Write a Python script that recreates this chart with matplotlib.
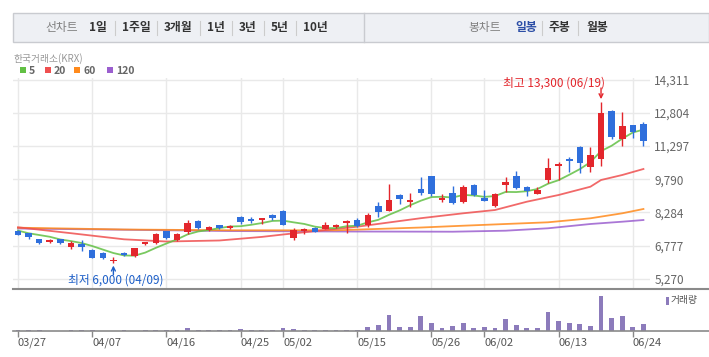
import numpy as np
import matplotlib
matplotlib.use('Agg')
import matplotlib.pyplot as plt
from matplotlib.patches import Rectangle
from matplotlib.lines import Line2D

plt.rcParams['font.family'] = ['Noto Sans CJK KR', 'DejaVu Sans']

# daily candles, 2025-03-27 .. 2025-06-25
dates = ['03/27', '03/28', '03/31', '04/01', '04/02', '04/03', '04/04', '04/07', '04/08', '04/09',
         '04/10', '04/11', '04/14', '04/15', '04/16', '04/17', '04/18', '04/21', '04/22', '04/23',
         '04/24', '04/25', '04/28', '04/29', '04/30', '05/02', '05/07', '05/08', '05/09', '05/12',
         '05/13', '05/14', '05/15', '05/16', '05/19', '05/20', '05/21', '05/22', '05/23', '05/26',
         '05/27', '05/28', '05/29', '05/30', '06/02', '06/04', '06/05', '06/09', '06/10', '06/11',
         '06/12', '06/13', '06/16', '06/17', '06/18', '06/19', '06/20', '06/23', '06/24', '06/25']
opens = [7440, 7340, 7080, 6960, 7070, 6730, 6840, 6580, 6460, 6080,
         6440, 6320, 6840, 6910, 7430, 7030, 7410, 7900, 7490, 7700,
         7590, 8080, 7970, 7930, 8160, 8360, 7140, 7460, 7570, 7550,
         7640, 7820, 7940, 7700, 8580, 8360, 9060, 8770, 9350, 9940,
         8850, 9180, 8760, 9530, 8950, 8590, 9540, 9940, 9430, 9140,
         9760, 10410, 10710, 11240, 10360, 10720, 12900, 11610, 12250, 12310]
highs = [7490, 7350, 7080, 7090, 7090, 6970, 7030, 6630, 6500, 6280,
         6500, 6670, 6960, 7340, 7440, 7340, 7940, 7960, 7660, 7700,
         7710, 8140, 8060, 8030, 8210, 8410, 7590, 7590, 7610, 7850,
         7770, 7960, 8020, 8260, 8760, 9580, 9120, 9170, 9880, 9960,
         9110, 9490, 9530, 9590, 9300, 9180, 9890, 10170, 9490, 9430,
         10760, 10560, 10790, 11300, 11270, 13300, 12940, 12850, 12250, 12400]
lows = [7250, 7090, 6870, 6880, 6870, 6630, 6530, 6200, 6160, 6000,
        6320, 6280, 6790, 6870, 7070, 7000, 7320, 7550, 7460, 7520,
        7550, 7750, 7820, 7770, 7960, 7700, 7030, 7320, 7380, 7530,
        7570, 7370, 7610, 7640, 8090, 8340, 8680, 8520, 9090, 9030,
        8770, 8680, 8730, 9030, 8800, 8550, 9210, 9340, 9030, 9140,
        9610, 9740, 10120, 10060, 10130, 10390, 11620, 11300, 11650, 11320]
closes = [7270, 7160, 6910, 7030, 6910, 6910, 6720, 6230, 6230, 6130,
          6370, 6660, 6930, 7310, 7110, 7310, 7790, 7590, 7620, 7570,
          7660, 7860, 7910, 8020, 8050, 7730, 7470, 7550, 7410, 7710,
          7710, 7910, 7670, 8160, 8310, 8850, 8910, 8850, 9180, 9120,
          8930, 8730, 9440, 9060, 8800, 9110, 9670, 9410, 9260, 9300,
          10300, 10480, 10620, 10540, 10890, 12810, 11700, 12220, 11950, 11540]
volumes = [4, 4, 4, 0.5, 0.5, 4, 4, 4, 0.5, 0.5,
           4, 0.5, 4, 4, 4, 4, 9, 4, 4, 4,
           4, 6, 4, 4, 4, 9, 6, 4, 4, 4,
           4, 4, 4, 12, 19, 48, 12, 12, 45, 24,
           9, 15, 24, 9, 12, 9, 36, 18, 9, 9,
           60, 30, 24, 21, 15, 108, 39, 45, 12, 21]  # thousand shares

ma5 = [7460, 7340, 7260, 7180, 7057, 6984, 6896, 6760, 6600, 6442,
       6333, 6322, 6461, 6677, 6874, 7062, 7289, 7421, 7485, 7576,
       7646, 7660, 7724, 7803, 7899, 7913, 7835, 7763, 7641, 7574,
       7572, 7659, 7683, 7832, 7951, 8178, 8377, 8613, 8818, 8982,
       8997, 8961, 9079, 9056, 8992, 9028, 9216, 9210, 9249, 9349,
       9588, 9751, 9994, 10251, 10568, 11070, 11313, 11633, 11915, 12045]
ma20_at = [0, 5, 10, 14, 19, 23, 25, 32, 38, 42, 45, 48, 51, 54, 55, 57, 59]
ma20 = [7610, 7342, 7065, 6965, 7011, 7174, 7283, 7637, 8023, 8246, 8395, 8772, 9077, 9453, 9757, 9984, 10257]
ma60_at = [0, 10, 20, 30, 38, 42, 46, 50, 54, 57, 59]
ma60 = [7592, 7510, 7474, 7474, 7600, 7682, 7760, 7837, 8019, 8246, 8441]
ma120_at = [0, 10, 20, 30, 41, 46, 50, 54, 57, 59]
ma120 = [7555, 7500, 7440, 7420, 7410, 7456, 7565, 7760, 7864, 7941]

price_ticks = [5270, 6777, 8284, 9790, 11297, 12804, 14311]
date_ticks = ['03/27', '04/07', '04/16', '04/25', '05/02', '05/15', '05/26', '06/02', '06/13', '06/24']

period_tabs = ['1일', '1주일', '3개월', '1년', '3년', '5년', '10년']
candle_tabs = ['일봉', '주봉', '월봉']
ma_names = ['5', '20', '60', '120']

RED = '#e3262c'
BLUE = '#2f6fdc'
MA_COLORS = ['#62c044', '#ef4f4f', '#ff8a1c', '#9b5fcf']
VOL_COLOR = '#8c7bbb'
GRID = '#e9e9e9'

W, H = 709, 357


def fx(x):
    return x / W


def fy(y):
    return 1 - y / H


fig = plt.figure(figsize=(W / 100, H / 100), dpi=100)

# top tab bar
fig.add_artist(Rectangle((fx(13), fy(42)), fx(709) - fx(13), fy(13) - fy(42),
                         transform=fig.transFigure, facecolor='#eef0f4', edgecolor='#c9cbd0', lw=1))
fig.add_artist(Line2D([fx(364), fx(364)], [fy(13), fy(42)], transform=fig.transFigure, color='#c9cbd0', lw=1))

fig.text(fx(45), fy(28), '선차트', color='#808080', fontsize=8.5, va='center', ha='left')
tab_x = [89, 122, 164, 207, 239, 271, 303]
sep_x = [115, 157, 200, 232, 264, 296]
for name, x in zip(period_tabs, tab_x):
    fig.text(fx(x), fy(28), name, color='#333333', fontsize=8.5, fontweight='bold', va='center', ha='left')
for x in sep_x:
    fig.add_artist(Line2D([fx(x), fx(x)], [fy(21), fy(35)], transform=fig.transFigure, color='#cccccc', lw=0.8))

fig.text(fx(468), fy(28), '봉차트', color='#808080', fontsize=8.5, va='center', ha='left')
for name, x, c in zip(candle_tabs, [515, 549, 586], ['#2c4ea6', '#333333', '#333333']):
    fig.text(fx(x), fy(28), name, color=c, fontsize=8.5, fontweight='bold', va='center', ha='left')
for x in [542, 578]:
    fig.add_artist(Line2D([fx(x), fx(x)], [fy(21), fy(35)], transform=fig.transFigure, color='#cccccc', lw=0.8))

# legend
fig.text(fx(13), fy(58.5), '한국거래소(KRX)', color='#999999', fontsize=7, va='center', ha='left')
for name, c, x in zip(ma_names, MA_COLORS, [20, 45, 74, 107]):
    fig.add_artist(Rectangle((fx(x), fy(73)), fx(6), fy(67) - fy(73),
                             transform=fig.transFigure, facecolor=c, edgecolor='none'))
    fig.text(fx(x + 9), fy(70.5), name, color='#666666', fontsize=7.5, fontweight='bold', va='center', ha='left')

# price panel
ax = fig.add_axes([fx(13), fy(289), fx(650) - fx(13), fy(78) - fy(289)])
x = np.arange(len(dates))
tick_idx = [dates.index(d) for d in date_ticks]

ax.plot(ma120_at, ma120, color=MA_COLORS[3], lw=1.3, alpha=0.85, zorder=2)
ax.plot(ma60_at, ma60, color=MA_COLORS[2], lw=1.3, alpha=0.85, zorder=2)
ax.plot(ma20_at, ma20, color=MA_COLORS[1], lw=1.3, alpha=0.85, zorder=2)
ax.plot(x, ma5, color=MA_COLORS[0], lw=1.3, alpha=0.85, zorder=2)

o = np.array(opens)
c = np.array(closes)
colors = [RED if cl >= op else BLUE for op, cl in zip(o, c)]
ax.vlines(x, lows, highs, colors=colors, lw=1, zorder=3)
body_h = np.maximum(np.abs(c - o), 40)
ax.bar(x, body_h, bottom=np.minimum(o, c), width=0.62, color=colors, zorder=4)

hi = int(np.argmax(highs))
lo = int(np.argmin(lows))
ax.annotate('', xy=(hi, highs[hi]), xytext=(0, 14), textcoords='offset pixels',
            arrowprops=dict(arrowstyle='->', color=RED, lw=1, shrinkA=0, shrinkB=2, mutation_scale=7))
ax.annotate(f'최고 {highs[hi]:,} ({dates[hi]})', xy=(hi, highs[hi]), xytext=(4, 19),
            textcoords='offset pixels', ha='right', va='center', color=RED, fontsize=8.5)
ax.annotate('', xy=(lo, lows[lo]), xytext=(0, -12), textcoords='offset pixels',
            arrowprops=dict(arrowstyle='->', color='#1d5fc8', lw=1, shrinkA=0, shrinkB=2, mutation_scale=7))
ax.annotate(f'최저 {lows[lo]:,} ({dates[lo]})', xy=(lo, lows[lo]), xytext=(2, -17),
            textcoords='offset pixels', ha='center', va='center', color='#1d5fc8', fontsize=8.5)

ax.set_xlim(-0.47, 59.62)
ax.set_ylim(4809, 14388)
ax.set_xticks(tick_idx)
ax.set_xticklabels([])
ax.set_yticks(price_ticks)
ax.set_yticklabels([f'{v:,}' for v in price_ticks])
ax.yaxis.tick_right()
ax.tick_params(axis='y', length=0, pad=3, labelsize=8.5, labelcolor='#666666')
ax.tick_params(axis='x', length=0)
ax.grid(color=GRID, lw=1)
ax.set_axisbelow(True)
for s in ax.spines.values():
    s.set_visible(False)

# volume panel
axv = fig.add_axes([fx(13), fy(331), fx(650) - fx(13), fy(291) - fy(331)])
axv.bar(x, volumes, width=0.45, color=VOL_COLOR)
axv.set_xlim(-0.47, 59.62)
axv.set_ylim(0, max(volumes) * 1.14)
axv.set_yticks([])
axv.set_xticks(tick_idx)
axv.set_xticklabels(date_ticks)
plt.setp(axv.get_xticklabels(), ha='left')
axv.tick_params(axis='x', length=4, color='#888888', width=1, pad=1, labelsize=8, labelcolor='#555555')
for s in axv.spines.values():
    s.set_visible(False)

fig.add_artist(Rectangle((fx(666), fy(305)), fx(2.5), fy(297) - fy(305),
                         transform=fig.transFigure, facecolor=VOL_COLOR, edgecolor='none'))
fig.text(fx(671), fy(300.5), '거래량', color='#555555', fontsize=7, va='center', ha='left')

# panel borders
fig.add_artist(Line2D([fx(13), fx(709)], [fy(289), fy(289)], transform=fig.transFigure, color='#8a8a8a', lw=1.5))
fig.add_artist(Line2D([fx(13), fx(709)], [fy(331), fy(331)], transform=fig.transFigure, color='#8a8a8a', lw=1.2))

fig.savefig('out.png', dpi=100)
